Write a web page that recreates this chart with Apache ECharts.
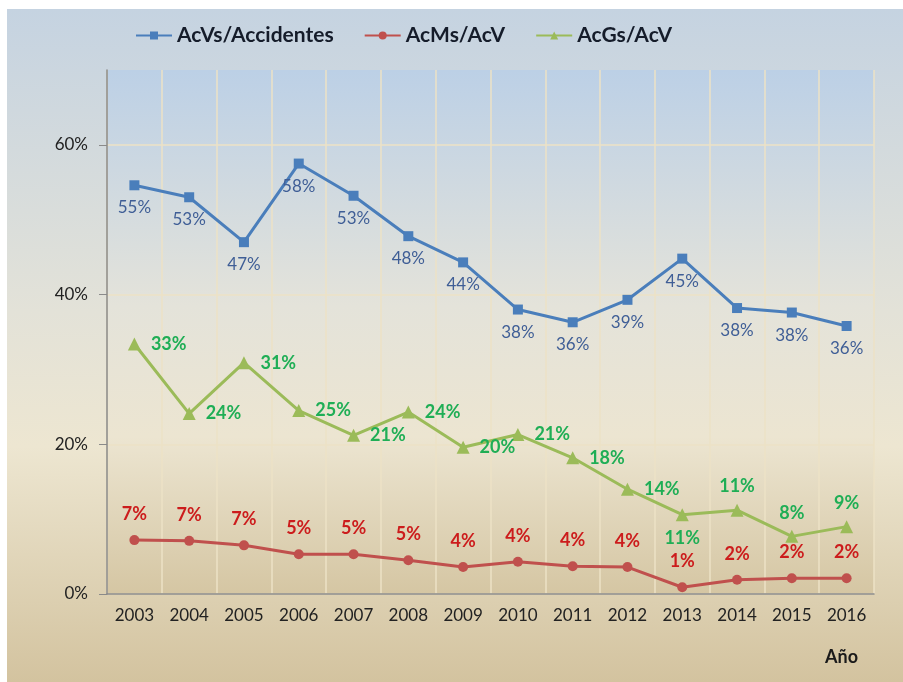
<!DOCTYPE html>
<html>
<head>
<meta charset="utf-8">
<script src="https://cdn.jsdelivr.net/npm/echarts@6/dist/echarts.min.js"></script>
<style>
  html, body { margin: 0; padding: 0; background: #fff; }
  #chart { width: 903px; height: 682px; }
</style>
</head>
<body>
<div id="chart"></div>
<script>
var years = ['2003','2004','2005','2006','2007','2008','2009','2010','2011','2012','2013','2014','2015','2016'];
var acvAccidentes = [54.6, 53.0, 47.0, 57.5, 53.2, 47.8, 44.3, 38.0, 36.3, 39.3, 44.8, 38.2, 37.6, 35.8];
var acmAcv = [7.2, 7.1, 6.5, 5.3, 5.3, 4.5, 3.6, 4.3, 3.7, 3.6, 0.9, 1.9, 2.1, 2.1];
var acgAcv = [33.4, 24.1, 30.9, 24.5, 21.2, 24.3, 19.6, 21.3, 18.2, 14.0, 10.6, 11.2, 7.7, 9.0];
var yTicks = [0, 20, 40, 60];
// where the green labels sit (most go right of the point)
var acgLabelPos = ['right','right','right','right','right','right','right','right','right','right','bottom','top','top','top'];

var FONT = 'Lato, "Open Sans", sans-serif';

function pct(p) { return Math.round(p.value) + '%'; }

function greenData() {
  return acgAcv.map(function (v, i) {
    var pos = acgLabelPos[i];
    return { value: v, label: { position: pos, distance: pos === 'right' ? 10 : 8 } };
  });
}

var chart = echarts.init(document.getElementById('chart'));
chart.setOption({
  backgroundColor: '#ffffff',
  textStyle: { fontFamily: FONT },
  graphic: [
    {
      type: 'rect', z: -10, silent: true,
      shape: { x: 7, y: 9, width: 896, height: 673 },
      style: {
        fill: new echarts.graphic.LinearGradient(0, 0, 0, 1, [
          { offset: 0, color: '#c5d3e1' },
          { offset: 0.45, color: '#e3e2d8' },
          { offset: 0.65, color: '#ede6d1' },
          { offset: 1, color: '#d3c39f' }
        ])
      }
    },
    {
      type: 'text', left: 825, top: 648,
      style: { text: 'Año', font: 'bold 18px ' + FONT, fill: '#1a1a1a' }
    }
  ],
  legend: {
    top: 20, left: 130,
    itemWidth: 36, itemHeight: 10, itemGap: 30,
    textStyle: { fontSize: 21, fontWeight: 'bold', color: '#151c2a', fontFamily: FONT },
    data: ['AcVs/Accidentes', 'AcMs/AcV', 'AcGs/AcV']
  },
  grid: {
    left: 107, right: 29, top: 70, bottom: 88,
    show: true, borderWidth: 0,
    backgroundColor: new echarts.graphic.LinearGradient(0, 0, 0, 1, [
      { offset: 0, color: '#bcd0e6' },
      { offset: 0.45, color: '#e4e3da' },
      { offset: 0.7, color: '#ece5d1' },
      { offset: 1, color: '#d5c6a3' }
    ])
  },
  xAxis: {
    type: 'category',
    data: years,
    boundaryGap: true,
    axisLine: { lineStyle: { color: '#8a8a8a', width: 1.5 } },
    axisTick: { show: false },
    axisLabel: { color: '#222', fontSize: 17, margin: 13 },
    splitLine: { show: true, lineStyle: { color: '#ece2c6', width: 1.5 } }
  },
  yAxis: {
    type: 'value',
    min: 0, max: 70, interval: 20,
    axisLine: { show: true, lineStyle: { color: '#8a8a8a', width: 1.5 } },
    axisTick: { show: true, length: 8, customValues: yTicks, lineStyle: { color: '#8a8a8a' } },
    axisLabel: {
      color: '#222', fontSize: 17, margin: 19,
      customValues: yTicks,
      formatter: function (v) { return v + '%'; }
    },
    splitLine: { show: true, lineStyle: { color: '#ece2c6', width: 1.5 } }
  },
  series: [
    {
      name: 'AcVs/Accidentes',
      type: 'line',
      data: acvAccidentes,
      symbol: 'rect', symbolSize: 10,
      itemStyle: { color: '#4a7ebb' },
      lineStyle: { color: '#4a7ebb', width: 3 },
      label: {
        show: true, position: 'bottom', distance: 9,
        color: '#3f5e96', fontSize: 17, formatter: pct
      }
    },
    {
      name: 'AcMs/AcV',
      type: 'line',
      data: acmAcv,
      symbol: 'circle', symbolSize: 10,
      itemStyle: { color: '#c0504d' },
      lineStyle: { color: '#c0504d', width: 3 },
      label: {
        show: true, position: 'top', distance: 12,
        color: '#cc1c1c', fontSize: 18, fontWeight: 'bold', formatter: pct
      }
    },
    {
      name: 'AcGs/AcV',
      type: 'line',
      data: greenData(),
      symbol: 'triangle', symbolSize: 13,
      itemStyle: { color: '#9bbb59' },
      lineStyle: { color: '#9bbb59', width: 3 },
      label: {
        show: true, color: '#1fae55', fontSize: 18, fontWeight: 'bold', formatter: pct
      }
    }
  ]
});
</script>
</body>
</html>
